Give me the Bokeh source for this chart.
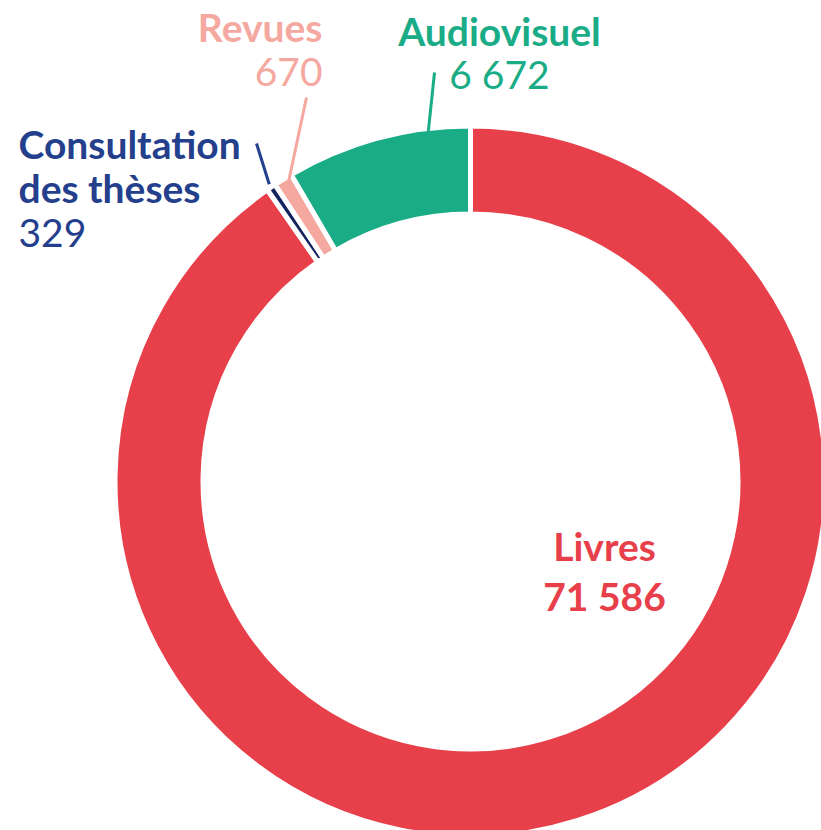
import math
from bokeh.plotting import figure
from bokeh.models import Range1d, Label
from bokeh.embed import file_html
from bokeh.resources import INLINE

# ---- data ----
categories = ["Livres", "Consultation des thèses", "Revues", "Audiovisuel"]
values = [71586, 329, 670, 6672]
slice_colors = ["#E8404A", "#14245E", "#F5A89F", "#1AAC86"]
label_colors = ["#E8404A", "#24408C", "#F5A89F", "#1AAC86"]

W, H = 821, 830
FONT = "Lato"


def px(x):
    return x


def py(y):
    return H - y


p = figure(width=W, height=H, output_backend="svg", toolbar_location=None,
           x_range=Range1d(0, W), y_range=Range1d(0, H), min_border=0)
p.axis.visible = False
p.grid.visible = False
p.outline_line_color = None
p.background_fill_color = "white"
p.border_fill_color = "white"

cx, cy = px(470), py(481)
R_OUT, R_IN = 353, 270
GAP = 5

total = sum(values)
starts, ends = [], []
cum = 0
for v in values:
    starts.append(math.pi / 2 - 2 * math.pi * cum / total)
    cum += v
    ends.append(math.pi / 2 - 2 * math.pi * cum / total)

p.annular_wedge(x=[cx] * len(values), y=[cy] * len(values),
                inner_radius=R_IN - GAP / 2, outer_radius=R_OUT + GAP / 2,
                start_angle=starts, end_angle=ends, direction="clock",
                fill_color=slice_colors, line_color="white", line_width=GAP)


def fmt(v):
    return f"{v:,}".replace(",", " ")


# leader lines: from near label to the slice (angle fraction inside slice, radius)
leaders = {
    1: ((256, 143), 0.5, R_OUT + 6),
    2: ((306, 97), 0.5, R_OUT - 6),
    3: ((434, 72), 0.77, R_OUT - 3),
}
for i, (start_pt, frac, r) in leaders.items():
    a = starts[i] + (ends[i] - starts[i]) * frac
    ex = cx + r * math.cos(a)
    ey = cy + r * math.sin(a)
    p.line(x=[px(start_pt[0]), ex], y=[py(start_pt[1]), ey],
           line_color=slice_colors[i] if i != 1 else label_colors[1], line_width=3)


def add_label(x, y, text, color, bold, align, size="39px"):
    p.add_layout(Label(x=px(x), y=py(y), text=text, text_color=color,
                       text_font=FONT, text_font_size=size,
                       text_font_style="bold" if bold else "normal",
                       text_align=align, text_baseline="middle"))


# Revues
add_label(322, 26, categories[2], label_colors[2], True, "right")
add_label(322, 71, fmt(values[2]), label_colors[2], False, "right")
# Audiovisuel
add_label(499, 30, categories[3], label_colors[3], True, "center")
add_label(499, 73, fmt(values[3]), label_colors[3], False, "center")
# Consultation des thèses
add_label(18, 143, "Consultation", label_colors[1], True, "left")
add_label(18, 187, "des thèses", label_colors[1], True, "left")
add_label(18, 232, fmt(values[1]), label_colors[1], False, "left")
# Livres
add_label(604, 545, categories[0], label_colors[0], True, "center")
add_label(604, 595, fmt(values[0]), label_colors[0], True, "center")

open("out.html", "w").write(file_html(p, INLINE))
